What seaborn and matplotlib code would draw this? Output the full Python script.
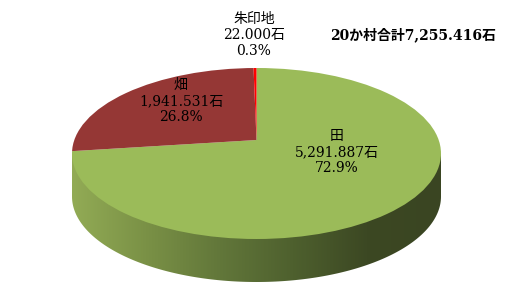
import numpy as np
import matplotlib
matplotlib.use("Agg")
import matplotlib.pyplot as plt
from matplotlib.patches import Ellipse, Polygon
from matplotlib.colors import LinearSegmentedColormap
import seaborn as sns

# ---- data ----
categories = ["田", "畑", "朱印地"]
values = [5291.887, 1941.531, 22.000]
percents = [72.9, 26.8, 0.3]
total_label = "20か村合計7,255.416石"
colors = ["#9bbb59", "#953735", "#ff0000"]

sns.set_theme(style="white")
plt.rcParams["font.family"] = ["DejaVu Serif", "Noto Sans CJK JP"]

W, H = 513, 302
fig = plt.figure(figsize=(W / 100, H / 100), dpi=100)
ax = fig.add_axes([0, 0, 1, 1])

# pixel geometry of the top ellipse
cx, cy, rx, ry = 256.5, 153.5, 184.5, 85.5
depth = 43 / ry
persp = 13.5 / ry  # apparent pie centre shifted up (perspective)


def px(x, y):
    return (x - cx) / rx, (cy - y) / ry


# top of pie, clipped to ellipse
wedges, _ = ax.pie(values, colors=colors, startangle=90, counterclock=False,
                   center=(0, persp), radius=4,
                   wedgeprops=dict(linewidth=0, edgecolor="none"))
top_clip = Ellipse((0, 0), 2, 2, facecolor="none", edgecolor="none")
ax.add_patch(top_clip)
for w in wedges:
    w.set_clip_on(True)
    w.set_clip_path(top_clip)
    w.set_zorder(3)

# side of the cylinder (gradient)
t = np.linspace(np.pi, 2 * np.pi, 200)
side_pts = np.column_stack([np.cos(t), -depth + np.sin(t)])
side_pts = np.vstack([side_pts, [[1, 0], [-1, 0]]])
side_poly = Polygon(side_pts, closed=True, facecolor="none", edgecolor="none")
ax.add_patch(side_poly)
cmap = LinearSegmentedColormap.from_list(
    "side", ["#92ab55", "#7a9146", "#62773a", "#4e602e", "#3c4823", "#3a4522"])
grad = np.linspace(0, 1, 256).reshape(1, -1)
im = ax.imshow(grad, cmap=cmap, extent=(-1, 1, -1 - depth, 0),
               aspect="auto", zorder=1, interpolation="bilinear")
im.set_clip_on(True)
im.set_clip_path(side_poly)

ax.set_aspect("auto")
ax.set_xlim(-cx / rx, (W - cx) / rx)
ax.set_ylim((cy - H) / ry, cy / ry)
ax.axis("off")

fs = 10


def label(i):
    return f"{categories[i]}\n{values[i]:,.3f}石\n{percents[i]:.1f}%"


pos = [(337, 152), (181, 101), (254, 35)]
for i, (x, y) in enumerate(pos):
    ax.text(*px(x, y), label(i), ha="center", va="center", fontsize=fs,
            linespacing=1.2, color="black", zorder=5)

ax.text(*px(413, 35), total_label, ha="center", va="center", fontsize=fs,
        fontweight="bold", color="black", zorder=5)

fig.savefig("out.png", dpi=100)
